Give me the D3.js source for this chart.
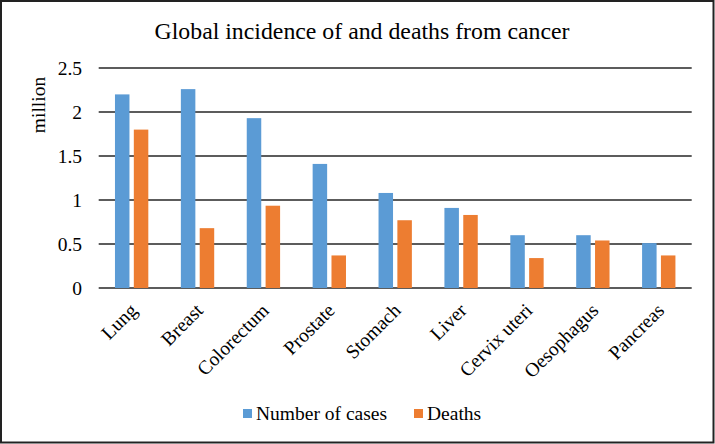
<!DOCTYPE html>
<html>
<head>
<meta charset="utf-8">
<script src="https://cdn.jsdelivr.net/npm/d3@7"></script>
<style>
  body { margin: 0; background: #fff; }
</style>
</head>
<body>
<div class="chart"></div>
<script>
// data
var categories = ['Lung', 'Breast', 'Colorectum', 'Prostate', 'Stomach', 'Liver', 'Cervix uteri', 'Oesophagus', 'Pancreas'];
var cases = [2.20, 2.26, 1.93, 1.41, 1.08, 0.91, 0.60, 0.60, 0.51];
var deaths = [1.80, 0.68, 0.935, 0.37, 0.77, 0.83, 0.34, 0.54, 0.37];
var seriesNames = ['Number of cases', 'Deaths'];
var seriesColors = ['#5b9bd5', '#ed7d31'];
var yTicks = [0, 0.5, 1, 1.5, 2, 2.5];

var W = 715, H = 444;
var plot = {left: 98.7, right: 691.7, top: 68, bottom: 288};
var serif = '"Liberation Serif", "Times New Roman", Times, serif';
var labelSize = 19.5;

var svg = d3.select('.chart')
  .append('svg')
    .attr('width', W)
    .attr('height', H)
    .attr('font-family', serif);

// frame
svg.append('rect')
  .attr('x', 1).attr('y', 1)
  .attr('width', W - 2.5).attr('height', H - 2.5)
  .attr('fill', '#fff')
  .attr('stroke', '#222')
  .attr('stroke-width', 2);

// scales
var x = d3.scaleBand().domain(categories).range([plot.left, plot.right]);
var y = d3.scaleLinear().domain([0, 2.5]).range([plot.bottom, plot.top]);

// bar layout: width ~0.22 of band, -30% overlap
var barW = x.bandwidth() * 0.22;
var innerGap = barW * 0.3;

// gridlines
svg.append('g')
  .selectAll('line')
  .data(yTicks)
  .enter().append('line')
    .attr('x1', plot.left).attr('x2', plot.right)
    .attr('y1', function(d){ return y(d); })
    .attr('y2', function(d){ return y(d); })
    .attr('stroke', '#262626')
    .attr('stroke-width', 1.3);

// y tick labels
svg.append('g')
  .selectAll('text')
  .data(yTicks)
  .enter().append('text')
    .attr('x', 82)
    .attr('y', function(d){ return y(d); })
    .attr('dy', '0.35em')
    .attr('text-anchor', 'end')
    .attr('font-size', labelSize)
    .text(function(d){ return d; });

// bars
var series = [cases, deaths];
series.forEach(function(vals, s){
  svg.append('g')
    .selectAll('rect')
    .data(vals)
    .enter().append('rect')
      .attr('x', function(d, i){
        var c = x(categories[i]) + x.bandwidth() / 2;
        return s === 0 ? c - innerGap / 2 - barW : c + innerGap / 2;
      })
      .attr('y', function(d){ return y(d); })
      .attr('width', barW)
      .attr('height', function(d){ return y(0) - y(d); })
      .attr('fill', seriesColors[s]);
});

// category labels, rotated
svg.append('g')
  .selectAll('text')
  .data(categories)
  .enter().append('text')
    .attr('transform', function(d){
      return 'translate(' + (x(d) + x.bandwidth() / 2 - 3) + ',302) rotate(-45)';
    })
    .attr('dy', '0.7em')
    .attr('text-anchor', 'end')
    .attr('font-size', labelSize)
    .text(function(d){ return d; });

// y axis title
svg.append('text')
  .attr('transform', 'translate(45,105) rotate(-90)')
  .attr('text-anchor', 'middle')
  .attr('font-size', labelSize)
  .text('million');

// chart title
svg.append('text')
  .attr('x', 362)
  .attr('y', 39)
  .attr('text-anchor', 'middle')
  .attr('font-size', 23.8)
  .text('Global incidence of and deaths from cancer');

// legend
var legendX = [243, 414];
var legend = svg.append('g')
  .selectAll('g')
  .data(seriesNames)
  .enter().append('g')
    .attr('transform', function(d, i){ return 'translate(' + legendX[i] + ',409)'; });
legend.append('rect')
  .attr('width', 9).attr('height', 9)
  .attr('fill', function(d, i){ return seriesColors[i]; });
legend.append('text')
  .attr('x', 13)
  .attr('y', 11)
  .attr('font-size', labelSize)
  .text(function(d){ return d; });
</script>
</body>
</html>
